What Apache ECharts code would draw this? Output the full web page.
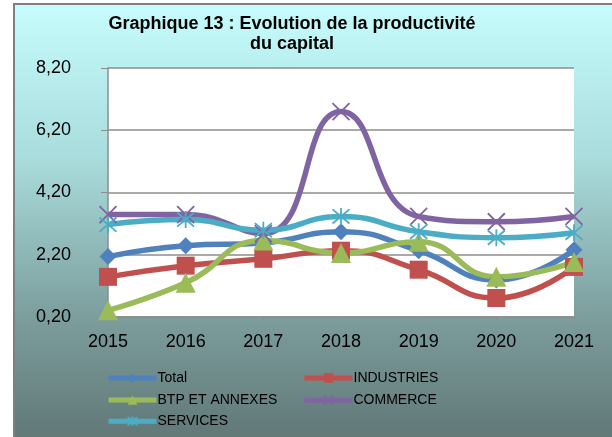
<!DOCTYPE html>
<html>
<head>
<meta charset="utf-8">
<script src="https://cdn.jsdelivr.net/npm/echarts@6/dist/echarts.min.js"></script>
<style>
  html, body { margin: 0; padding: 0; background: #fff; }
  #frame {
    position: absolute; left: 13px; top: 3px; width: 610px; height: 440px;
    border-left: 2px solid #7f7f7f; border-top: 2px solid #7f7f7f;
    background: linear-gradient(to bottom, #c6fcfc 0%, #a9dcdc 35%, #7d9f9e 70%, #5f7675 100%);
  }
  #chart { position: absolute; left: 0; top: 0; width: 612px; height: 437px; }
</style>
</head>
<body>
<div id="frame"></div>
<div id="chart"></div>
<script>
const years = ['2015', '2016', '2017', '2018', '2019', '2020', '2021'];
const total = [2.14, 2.49, 2.58, 2.94, 2.33, 1.39, 2.36];
const industries = [1.49, 1.85, 2.07, 2.33, 1.72, 0.81, 1.81];
const btp = [0.42, 1.30, 2.66, 2.26, 2.62, 1.49, 1.97];
const commerce = [3.49, 3.49, 2.88, 6.80, 3.43, 3.26, 3.43];
const services = [3.17, 3.33, 2.99, 3.43, 2.94, 2.75, 2.91];

const chart = echarts.init(document.getElementById('chart'));
const font = 'Liberation Sans, Arial, sans-serif';

const crossPath = 'path://M0,0L10,10M10,0L0,10';
const starPath = 'path://M0,0L10,10M10,0L0,10M5,-1L5,11';

function line(name, data, color, symbol, size, stroke) {
  return {
    name,
    type: 'line',
    data,
    smooth: 0.5,
    symbol,
    symbolSize: size,
    lineStyle: { color, width: 5.5 },
    itemStyle: stroke
      ? { color: 'none', borderColor: color, borderWidth: 1.8 }
      : { color },
    emphasis: { disabled: true },
  };
}

// one legend per entry, laid out as the two columns of the reference
function legendItem(name, left, top) {
  return {
    data: [name],
    left, top,
    padding: 0,
    itemWidth: 48, itemHeight: 12,
    lineStyle: { width: 5 },
    textStyle: { fontFamily: font, fontSize: 14, color: '#000', padding: [0, 0, 0, -4] },
  };
}

chart.setOption({
  animation: false,
  title: {
    text: 'Graphique 13 : Evolution de la productivité\ndu capital',
    left: 287,
    top: 9,
    textAlign: 'center',
    textStyle: { fontFamily: font, fontSize: 18, fontWeight: 'bold', color: '#000', lineHeight: 20 },
  },
  grid: {
    left: 108, right: 38, top: 68, bottom: 120,
    show: true, backgroundColor: '#fff', borderWidth: 0,
  },
  xAxis: {
    type: 'category',
    data: years,
    boundaryGap: false,
    axisLine: { lineStyle: { color: '#8c8c8c', width: 1.5 } },
    axisTick: { show: true, length: 5, lineStyle: { color: '#8c8c8c' } },
    axisLabel: { fontFamily: font, fontSize: 18, color: '#000', margin: 16 },
  },
  yAxis: {
    type: 'value',
    min: 0.2,
    max: 8.2,
    interval: 2,
    axisLine: { show: true, lineStyle: { color: '#8c8c8c', width: 1.5 } },
    axisTick: { show: true, length: 7, lineStyle: { color: '#8c8c8c' } },
    axisLabel: {
      fontFamily: font, fontSize: 18, color: '#000', margin: 37,
      formatter: (v) => v.toFixed(2).replace('.', ','),
    },
    splitLine: { lineStyle: { color: '#8c8c8c', width: 1.5 } },
  },
  legend: [
    legendItem('Total', 106, 371),
    legendItem('BTP ET ANNEXES', 106, 393),
    legendItem('SERVICES', 106, 414),
    legendItem('INDUSTRIES', 302, 371),
    legendItem('COMMERCE', 302, 393),
  ],
  series: [
    line('Total', total, '#4f81bd', 'diamond', 17),
    line('INDUSTRIES', industries, '#c0504d', 'rect', 18),
    line('BTP ET ANNEXES', btp, '#9bbb59', 'triangle', 20),
    line('COMMERCE', commerce, '#8064a2', crossPath, 17, true),
    line('SERVICES', services, '#4bacc6', starPath, 17, true),
  ],
});
</script>
</body>
</html>
